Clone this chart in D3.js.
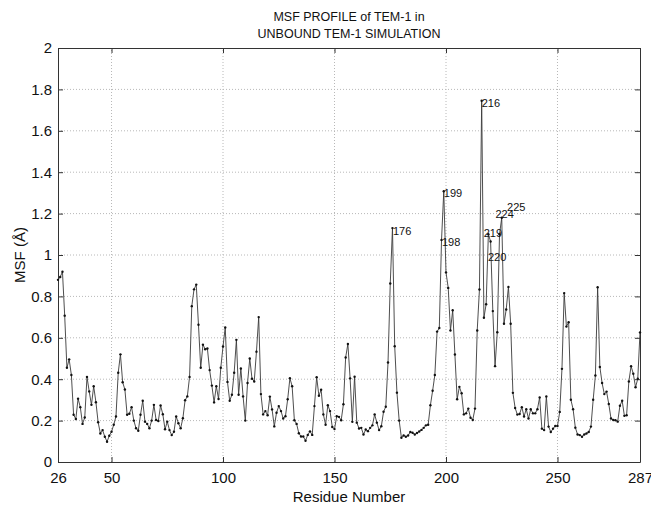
<!DOCTYPE html>
<html>
<head>
<meta charset="utf-8">
<script src="https://cdn.jsdelivr.net/npm/d3@7/dist/d3.min.js"></script>
<style>
  body { margin: 0; background: #fff; }
  svg text { font-family: "Liberation Sans", Arial, Helvetica, sans-serif; fill: #111; }
</style>
</head>
<body>
<script>
// MSF per residue, residues 26..287
const firstResidue = 26;
const msf = [
  0.88, 0.894, 0.919, 0.707, 0.455, 0.496, 0.42, 0.228, 0.208, 0.306,   // 26-35
  0.265, 0.184, 0.215, 0.411, 0.341, 0.276, 0.366, 0.289, 0.192, 0.138, // 36-45
  0.154, 0.122, 0.098, 0.127, 0.146, 0.18, 0.22, 0.431, 0.52, 0.385,    // 46-55
  0.35, 0.228, 0.233, 0.265, 0.2, 0.163, 0.151, 0.228, 0.296, 0.195,    // 56-65
  0.184, 0.163, 0.2, 0.276, 0.203, 0.198, 0.273, 0.231, 0.158, 0.195,   // 66-75
  0.154, 0.13, 0.146, 0.22, 0.187, 0.163, 0.211, 0.298, 0.317, 0.411,   // 76-85
  0.753, 0.834, 0.857, 0.663, 0.455, 0.567, 0.545, 0.548, 0.444, 0.369, // 86-95
  0.288, 0.366, 0.304, 0.455, 0.558, 0.65, 0.387, 0.296, 0.325, 0.431,  // 96-105
  0.59, 0.325, 0.452, 0.317, 0.2, 0.382, 0.5, 0.402, 0.389, 0.533,      // 106-115
  0.7, 0.328, 0.23, 0.246, 0.226, 0.316, 0.254, 0.172, 0.238, 0.27,     // 116-125
  0.246, 0.21, 0.221, 0.303, 0.405, 0.366, 0.202, 0.184, 0.139, 0.123,  // 126-135
  0.123, 0.103, 0.131, 0.148, 0.131, 0.27, 0.41, 0.32, 0.349, 0.23,     // 136-145
  0.18, 0.274, 0.246, 0.169, 0.159, 0.221, 0.218, 0.202, 0.279, 0.505,  // 146-155
  0.57, 0.404, 0.194, 0.412, 0.19, 0.162, 0.165, 0.133, 0.157, 0.149,   // 156-165
  0.165, 0.177, 0.23, 0.19, 0.154, 0.173, 0.243, 0.267, 0.481, 0.862,   // 166-175
  1.13, 0.559, 0.335, 0.2, 0.117, 0.128, 0.122, 0.128, 0.145, 0.141,    // 176-185
  0.133, 0.14, 0.147, 0.155, 0.165, 0.177, 0.18, 0.274, 0.344, 0.42,    // 186-195
  0.63, 0.647, 1.073, 1.308, 0.916, 0.841, 0.635, 0.733, 0.519, 0.303,  // 196-205
  0.363, 0.332, 0.23, 0.235, 0.258, 0.214, 0.203, 0.258, 0.635, 0.833,  // 206-215
  1.745, 0.697, 0.762, 1.10, 1.065, 0.729, 0.463, 0.627, 1.10, 1.18,    // 216-225
  0.668, 0.737, 0.846, 0.668, 0.334, 0.261, 0.229, 0.232, 0.265, 0.22,  // 226-235
  0.255, 0.21, 0.255, 0.235, 0.235, 0.255, 0.312, 0.161, 0.154, 0.317,  // 236-245
  0.171, 0.145, 0.161, 0.174, 0.174, 0.242, 0.45, 0.816, 0.654, 0.675,  // 246-255
  0.301, 0.255, 0.166, 0.133, 0.13, 0.122, 0.133, 0.138, 0.145, 0.171,  // 256-265
  0.301, 0.418, 0.844, 0.459, 0.382, 0.328, 0.34, 0.28, 0.21, 0.203,    // 266-275
  0.202, 0.195, 0.272, 0.296, 0.223, 0.226, 0.389, 0.463, 0.426, 0.361, // 276-285
  0.402, 0.626                                                          // 286-287
];

const xTicks = [26, 50, 100, 150, 200, 250, 287];
const yTicks = [0, 0.2, 0.4, 0.6, 0.8, 1, 1.2, 1.4, 1.6, 1.8, 2];

// peak annotations: text with the residue / MSF where the text sits
const labelText    = ["176", "198", "199", "216", "219", "220", "224", "225"];
const labelResidue = [176.2, 198.2, 199,   216,   216.9, 218.8, 222.2, 227.4];
const labelMsf     = [1.117, 1.06,  1.30,  1.733, 1.105, 0.99,  1.197, 1.233];

const W = 651, H = 509;
const M = {left: 58, right: 11, top: 48, bottom: 47};

const svg = d3.select("body").append("svg")
  .attr("width", W).attr("height", H);

const x = d3.scaleLinear().domain([26, 287]).range([M.left, W - M.right]);
const y = d3.scaleLinear().domain([0, 2]).range([H - M.bottom, M.top]);

const pts = msf.map((v, i) => ({r: firstResidue + i, v: v}));

// dotted grid
svg.append("g").selectAll("line.gx")
  .data(xTicks.slice(1, -1)).enter().append("line")
  .attr("x1", d => x(d)).attr("x2", d => x(d))
  .attr("y1", y(0)).attr("y2", y(2))
  .attr("stroke", "#b8b8b8").attr("stroke-dasharray", "1,2").attr("stroke-width", 1);
svg.append("g").selectAll("line.gy")
  .data(yTicks.slice(1, -1)).enter().append("line")
  .attr("x1", x(26)).attr("x2", x(287))
  .attr("y1", d => y(d)).attr("y2", d => y(d))
  .attr("stroke", "#b8b8b8").attr("stroke-dasharray", "1,2").attr("stroke-width", 1);

// axes, ticks pointing inward like matlab
const fmt = d => String(d);
const axB = svg.append("g").attr("transform", `translate(0,${y(0)})`)
  .call(d3.axisBottom(x).tickValues(xTicks).tickSize(-5).tickSizeOuter(0).tickPadding(10).tickFormat(fmt));
const axL = svg.append("g").attr("transform", `translate(${x(26)},0)`)
  .call(d3.axisLeft(y).tickValues(yTicks).tickSize(-5).tickSizeOuter(0).tickPadding(6).tickFormat(fmt));
const axT = svg.append("g").attr("transform", `translate(0,${y(2)})`)
  .call(d3.axisTop(x).tickValues(xTicks).tickSize(-5).tickSizeOuter(0).tickFormat(""));
const axR = svg.append("g").attr("transform", `translate(${x(287)},0)`)
  .call(d3.axisRight(y).tickValues(yTicks).tickSize(-5).tickSizeOuter(0).tickFormat(""));

[axB, axL, axT, axR].forEach(g => {
  g.selectAll("path, line").attr("stroke", "#333").attr("stroke-width", 1);
  g.selectAll("text").style("font-size", "15px").attr("fill", "#111");
});

// profile line + dot markers
svg.append("path").datum(pts)
  .attr("fill", "none").attr("stroke", "#3a3a3a").attr("stroke-width", 0.9)
  .attr("d", d3.line().x(d => x(d.r)).y(d => y(d.v)));
svg.append("g").selectAll("circle")
  .data(pts).enter().append("circle")
  .attr("cx", d => x(d.r)).attr("cy", d => y(d.v)).attr("r", 1.2)
  .attr("fill", "#111");

// peak labels
svg.append("g").selectAll("text")
  .data(labelText).enter().append("text")
  .attr("x", (d, i) => x(labelResidue[i]))
  .attr("y", (d, i) => y(labelMsf[i]))
  .attr("dy", "0.35em")
  .style("font-size", "11px")
  .text(d => d);

// titles
const cx = (x(26) + x(287)) / 2;
const title = svg.append("text").attr("text-anchor", "middle").style("font-size", "12.5px");
title.append("tspan").attr("x", cx).attr("y", 21).text("MSF PROFILE of TEM-1 in");
title.append("tspan").attr("x", cx).attr("y", 38).text("UNBOUND TEM-1 SIMULATION");

svg.append("text").attr("x", cx).attr("y", 502)
  .attr("text-anchor", "middle").style("font-size", "15px")
  .text("Residue Number");

svg.append("text")
  .attr("transform", `translate(25,${(y(0) + y(2)) / 2}) rotate(-90)`)
  .attr("text-anchor", "middle").style("font-size", "15px")
  .text("MSF (Å)");
</script>
</body>
</html>
